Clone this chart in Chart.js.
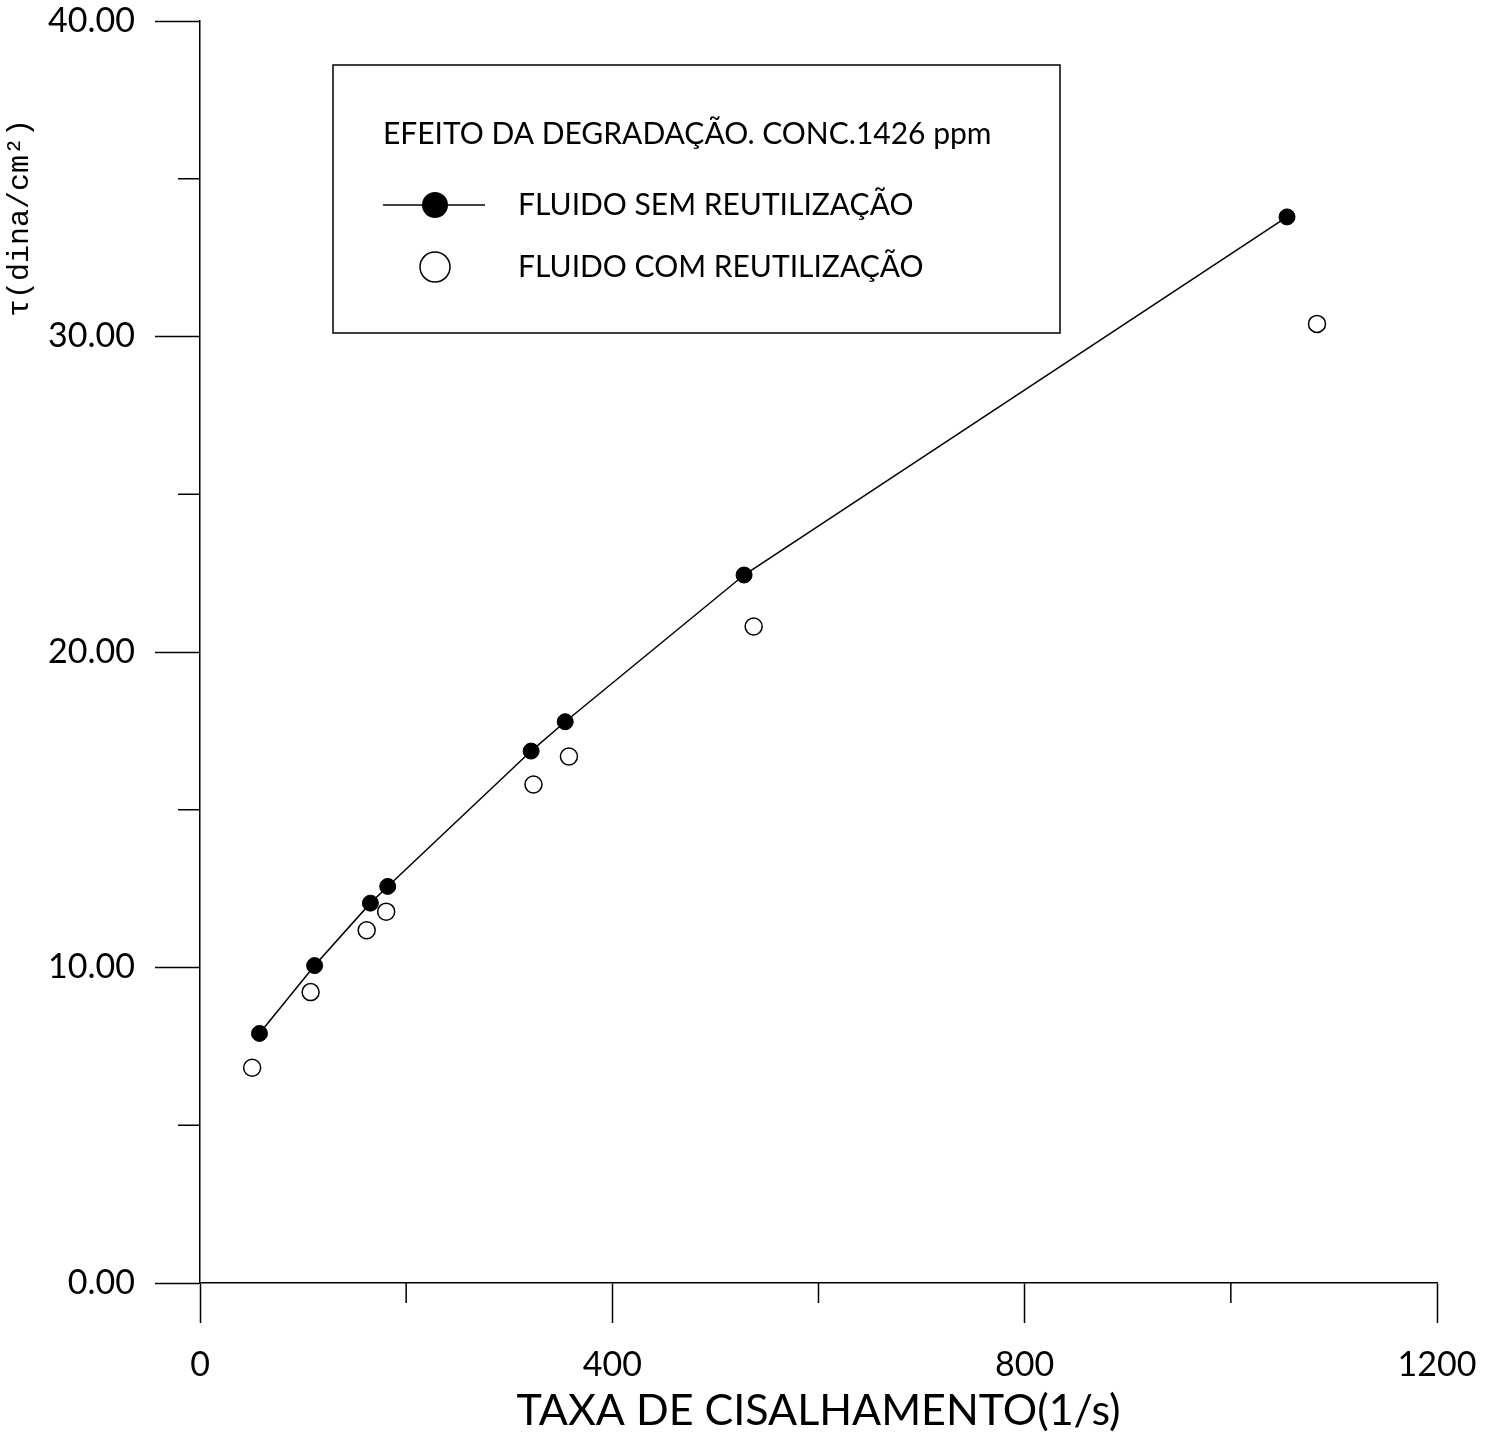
<!DOCTYPE html>
<html>
<head>
<meta charset="utf-8">
<script src="https://cdn.jsdelivr.net/npm/chart.js@4.4.1/dist/chart.umd.min.js"></script>
<style>
  html, body { margin: 0; padding: 0; background: #fff; }
  #wrap { width: 1495px; height: 1437px; }
</style>
</head>
<body>
<div id="wrap"><canvas id="c" width="1495" height="1437"></canvas></div>
<script>
// Shear rate (1/s) and shear stress (dina/cm²) readings
const taxaSem = [57.7, 111.2, 165.3, 182.1, 321.2, 354.3, 527.8, 1054.5];
const tensaoSem = [7.91, 10.06, 12.04, 12.57, 16.86, 17.79, 22.44, 33.79];
const taxaCom = [50.6, 107.3, 161.7, 180.6, 323.5, 357.9, 537.1, 1083.6];
const tensaoCom = [6.82, 9.22, 11.18, 11.77, 15.80, 16.69, 20.81, 30.40];

const serieSemLabel = 'FLUIDO SEM REUTILIZAÇÃO';
const serieComLabel = 'FLUIDO COM REUTILIZAÇÃO';
const legendTitle = 'EFEITO DA DEGRADAÇÃO. CONC.1426 ppm';
const xTitle = 'TAXA DE CISALHAMENTO(1/s)';
const yTitle = 'τ(dina/cm²)';

const xTicks = [0, 400, 800, 1200];
const xMinorTicks = [200, 600, 1000];
const yTicks = [0, 10, 20, 30, 40];
const yMinorTicks = [5, 15, 25, 35];

const FONT = 'Lato, "DejaVu Sans", sans-serif';

const toPoints = (xs, ys) => xs.map((x, i) => ({ x: x, y: ys[i] }));

// Minor tick marks, y title and the boxed legend
const extras = {
  id: 'extras',
  afterDraw(chart) {
    const ctx = chart.ctx;
    const xs = chart.scales.x, ys = chart.scales.y;
    const area = chart.chartArea;
    ctx.save();
    ctx.strokeStyle = '#000';
    ctx.lineWidth = 1.5;
    // minor ticks
    ctx.beginPath();
    yMinorTicks.forEach(v => {
      const py = ys.getPixelForValue(v);
      ctx.moveTo(area.left - 22, py);
      ctx.lineTo(area.left, py);
    });
    xMinorTicks.forEach(v => {
      const px = xs.getPixelForValue(v);
      ctx.moveTo(px, area.bottom);
      ctx.lineTo(px, area.bottom + 20);
    });
    ctx.stroke();

    // y axis title
    ctx.fillStyle = '#000';
    ctx.font = '30px "Liberation Mono", monospace';
    ctx.textAlign = 'center';
    ctx.textBaseline = 'middle';
    ctx.translate(20, 218);
    ctx.rotate(-Math.PI / 2);
    ctx.fillText(yTitle, 0, 0);
    ctx.restore();

    // legend box
    ctx.save();
    ctx.strokeStyle = '#000';
    ctx.lineWidth = 1.5;
    ctx.strokeRect(333, 65, 727, 268);
    ctx.fillStyle = '#000';
    ctx.textAlign = 'left';
    ctx.textBaseline = 'middle';
    ctx.font = '30px ' + FONT;
    ctx.fillText(legendTitle, 383, 134);

    const ds = chart.data.datasets;
    // filled-marker entry with line
    ctx.beginPath();
    ctx.moveTo(383, 205);
    ctx.lineTo(485, 205);
    ctx.stroke();
    ctx.beginPath();
    ctx.arc(435, 205, 13, 0, Math.PI * 2);
    ctx.fill();
    ctx.fillText(ds[0].label, 518, 205);
    // open-marker entry
    ctx.beginPath();
    ctx.arc(435, 267, 15, 0, Math.PI * 2);
    ctx.stroke();
    ctx.fillText(ds[1].label, 518, 267);
    ctx.restore();
  }
};

new Chart(document.getElementById('c'), {
  type: 'scatter',
  data: {
    datasets: [
      {
        label: serieSemLabel,
        data: toPoints(taxaSem, tensaoSem),
        showLine: true,
        borderColor: '#000',
        borderWidth: 1.5,
        pointRadius: 8,
        pointBackgroundColor: '#000',
        pointBorderColor: '#000',
        pointBorderWidth: 1
      },
      {
        label: serieComLabel,
        data: toPoints(taxaCom, tensaoCom),
        showLine: false,
        pointRadius: 8.5,
        pointBackgroundColor: '#fff',
        pointBorderColor: '#000',
        pointBorderWidth: 1.5
      }
    ]
  },
  options: {
    responsive: false,
    animation: false,
    layout: { padding: { top: 21, right: 58, left: 0, bottom: 0 } },
    plugins: { legend: { display: false }, tooltip: { enabled: false } },
    scales: {
      x: {
        type: 'linear',
        min: 0,
        max: 1200,
        afterBuildTicks: s => { s.ticks = xTicks.map(v => ({ value: v })); },
        afterFit: s => { s.height = 154; s.paddingLeft = 0; s.paddingRight = 0; },
        border: { display: true, color: '#000', width: 1.5 },
        grid: { drawOnChartArea: false, drawTicks: true, tickLength: 40, tickColor: '#000', tickWidth: 1.5 },
        ticks: { color: '#000', padding: 22, font: { family: FONT, size: 34 }, maxRotation: 0, callback: v => String(v) },
        title: { display: true, text: xTitle, color: '#000', padding: 0, font: { family: FONT, size: 43, lineHeight: 1.2 } }
      },
      y: {
        type: 'linear',
        min: 0,
        max: 40,
        afterBuildTicks: s => { s.ticks = yTicks.map(v => ({ value: v })); },
        afterFit: s => { s.width = 200; s.paddingTop = 0; s.paddingBottom = 0; },
        border: { display: true, color: '#000', width: 1.5 },
        grid: { drawOnChartArea: false, drawTicks: true, tickLength: 45, tickColor: '#000', tickWidth: 1.5 },
        ticks: { color: '#000', padding: 20, font: { family: FONT, size: 34 }, callback: v => Number(v).toFixed(2) }
      }
    }
  },
  plugins: [extras]
});
</script>
</body>
</html>
